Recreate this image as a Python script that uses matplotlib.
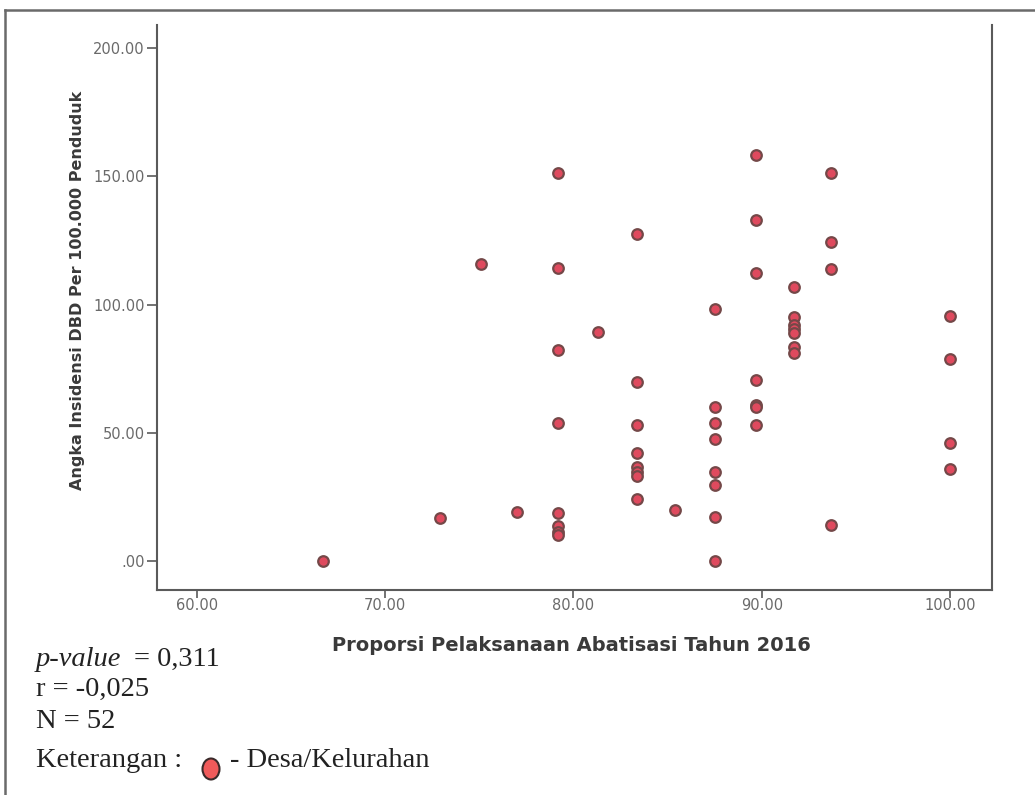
import matplotlib
matplotlib.use("Agg")
import matplotlib.pyplot as plt
from matplotlib.lines import Line2D
from matplotlib.patches import Ellipse

# Proportion of larviciding (abatisasi) coverage per village, 2016
abatisasi = [
    66.7, 72.9, 75.1, 77.0,
    79.2, 79.2, 79.2, 79.2, 79.2, 79.2, 79.2, 79.2,
    81.3,
    83.4, 83.4, 83.4, 83.4, 83.4, 83.4, 83.4, 83.4,
    85.4,
    87.5, 87.5, 87.5, 87.5, 87.5, 87.5, 87.5, 87.5,
    89.7, 89.7, 89.7, 89.7, 89.7, 89.7, 89.7,
    91.7, 91.7, 91.7, 91.7, 91.7, 91.7, 91.7,
    93.7, 93.7, 93.7, 93.7,
    100.0, 100.0, 100.0, 100.0,
]
# Dengue (DBD) incidence per 100,000 population
insidensi = [
    0.0, 16.9, 115.7, 19.2,
    151.4, 114.3, 82.3, 53.7, 18.8, 13.5, 11.5, 10.0,
    89.3,
    127.4, 69.7, 53.0, 42.2, 36.6, 34.8, 33.1, 24.1,
    19.7,
    98.2, 59.9, 53.7, 47.6, 34.6, 29.6, 17.3, 0.0,
    158.3, 132.9, 112.4, 70.6, 61.0, 60.0, 53.0,
    106.7, 95.2, 92.0, 90.5, 88.8, 83.5, 81.2,
    151.1, 124.5, 113.7, 14.0,
    95.6, 78.6, 45.9, 35.7,
]

x_ticks = [60, 70, 80, 90, 100]
x_ticklabels = ["60.00", "70.00", "80.00", "90.00", "100.00"]
y_ticks = [0, 50, 100, 150, 200]
y_ticklabels = [".00", "50.00", "100.00", "150.00", "200.00"]

stat_lines = ["= 0,311", "r = -0,025", "N = 52"]

W, H = 1035, 795
fig = plt.figure(figsize=(W / 100, H / 100), dpi=100)
fig.patch.set_facecolor("white")

ax = fig.add_axes([157 / W, 1 - 590 / H, (992 - 157) / W, (590 - 25) / H])
ax.set_xlim(57.88, 102.23)
ax.set_ylim(-11.3, 209.0)

ax.scatter(abatisasi, insidensi, s=58, facecolor="#df4a5e", edgecolor="#744848",
           linewidth=1.6, zorder=3)

spine_col = "#5a5a5a"
for side in ("left", "right", "bottom"):
    ax.spines[side].set_color(spine_col)
    ax.spines[side].set_linewidth(1.5)
ax.spines["top"].set_visible(False)

ax.set_xticks(x_ticks)
ax.set_xticklabels(x_ticklabels)
ax.set_yticks(y_ticks)
ax.set_yticklabels(y_ticklabels)
ax.tick_params(axis="x", direction="out", length=6, width=1.2, color=spine_col,
               labelsize=10.5, labelcolor="#6a6a6a", pad=0)
ax.tick_params(axis="y", direction="out", length=7, width=1.2, color=spine_col,
               labelsize=10.5, labelcolor="#6a6a6a", pad=2)

ax.set_xlabel("Proporsi Pelaksanaan Abatisasi Tahun 2016", fontsize=14,
              fontweight="bold", color="#3a3a3a")
ax.set_ylabel("Angka Insidensi DBD Per 100.000 Penduduk", fontsize=11.5,
              fontweight="bold", color="#3a3a3a")
ax.xaxis.set_label_coords((571 - 157) / (992 - 157), -(636 - 590) / (590 - 25))
ax.yaxis.set_label_coords(-(157 - 85) / (992 - 157), (590 - 290) / (590 - 25))

# outer frame of the figure panel
frame_kw = dict(color="#6a6a6a", linewidth=1.8, transform=fig.transFigure)
fig.add_artist(Line2D([5 / W, 5 / W], [1 - 10 / H, 0], **frame_kw))
fig.add_artist(Line2D([5 / W, 1], [1 - 10 / H, 1 - 10 / H], **frame_kw))

# statistics block
serif = dict(family="Liberation Serif", fontsize=20.5, color="#222222", va="baseline")
fig.text(36 / W, 1 - 666 / H, "p-value", style="italic", **serif)
fig.text(134 / W, 1 - 666 / H, stat_lines[0], **serif)
fig.text(36 / W, 1 - 696 / H, stat_lines[1], **serif)
fig.text(36 / W, 1 - 728 / H, stat_lines[2], **serif)
fig.text(36 / W, 1 - 767 / H, "Keterangan :", **serif)
fig.add_artist(Ellipse((211 / W, 1 - 769 / H), 17 / W, 21 / H,
                       transform=fig.transFigure, facecolor="#f05a5a",
                       edgecolor="#3a2a2a", linewidth=1.5))
fig.text(230 / W, 1 - 767 / H, "- Desa/Kelurahan", **serif)

fig.savefig("out.png", dpi=100)
